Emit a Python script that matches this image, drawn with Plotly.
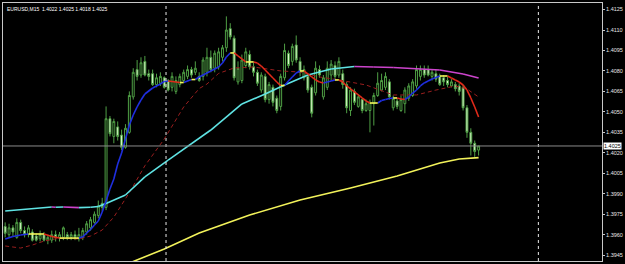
import plotly.graph_objects as go

# ---------------- data (EURUSD, M15) ----------------
bars = list(range(123))
open_ = [1.3966,1.3960,1.3965,1.3958,1.3969,1.3963,1.3960,1.3962,1.3959,1.3957,
         1.3960,1.3956,1.3956,1.3960,1.3958,1.3958,1.3960,1.3958,1.3960,1.3957,
         1.3958,1.3962,1.3965,1.3969,1.3974,1.3983,1.3980,1.4045,1.4032,1.4039,
         1.4033,1.4024,1.4035,1.4061,1.4081,1.4077,1.4087,1.4078,1.4078,1.4070,
         1.4071,1.4075,1.4073,1.4068,1.4065,1.4070,1.4073,1.4076,1.4081,1.4079,
         1.4076,1.4076,1.4079,1.4090,1.4082,1.4083,1.4090,1.4097,1.4111,1.4104,
         1.4072,1.4073,1.4084,1.4092,1.4083,1.4079,1.4066,1.4076,1.4059,1.4068,
         1.4060,1.4054,1.4075,1.4093,1.4087,1.4099,1.4087,1.4075,1.4076,1.4068,
         1.4064,1.4081,1.4061,1.4068,1.4077,1.4084,1.4077,1.4078,1.4070,1.4051,
         1.4065,1.4054,1.4059,1.4051,1.4051,1.4056,1.4062,1.4066,1.4068,1.4072,
         1.4053,1.4058,1.4051,1.4056,1.4060,1.4062,1.4069,1.4076,1.4081,1.4081,
         1.4076,1.4078,1.4076,1.4075,1.4073,1.4069,1.4070,1.4069,1.4068,1.4053,
         1.4035,1.4027,1.4022]
high = [1.3969,1.3968,1.3967,1.3972,1.3971,1.3966,1.3967,1.3964,1.3961,1.3963,
        1.3962,1.3960,1.3963,1.3963,1.3962,1.3966,1.3962,1.3962,1.3963,1.3965,
        1.3965,1.3970,1.3973,1.3977,1.3985,1.3987,1.4054,1.4047,1.4045,1.4043,
        1.4037,1.4041,1.4065,1.4082,1.4088,1.4090,1.4091,1.4081,1.4081,1.4078,
        1.4079,1.4076,1.4074,1.4079,1.4076,1.4078,1.4081,1.4084,1.4083,1.4087,
        1.4079,1.4090,1.4097,1.4095,1.4095,1.4097,1.4099,1.4120,1.4115,1.4106,
        1.4087,1.4092,1.4097,1.4095,1.4087,1.4081,1.4079,1.4078,1.4072,1.4070,
        1.4062,1.4078,1.4100,1.4095,1.4100,1.4106,1.4090,1.4084,1.4078,1.4070,
        1.4087,1.4084,1.4077,1.4087,1.4088,1.4087,1.4090,1.4081,1.4072,1.4068,
        1.4067,1.4063,1.4060,1.4059,1.4059,1.4064,1.4079,1.4078,1.4079,1.4074,
        1.4062,1.4060,1.4062,1.4068,1.4071,1.4074,1.4084,1.4084,1.4084,1.4084,
        1.4081,1.4081,1.4078,1.4077,1.4076,1.4074,1.4072,1.4071,1.4070,1.4055,
        1.4038,1.4029,1.4025]
low = [1.3958,1.3958,1.3959,1.3957,1.3961,1.3958,1.3958,1.3955,1.3955,1.3955,
       1.3955,1.3953,1.3954,1.3955,1.3955,1.3956,1.3956,1.3956,1.3956,1.3955,
       1.3956,1.3960,1.3963,1.3968,1.3972,1.3977,1.3978,1.4032,1.4027,1.4029,
       1.4022,1.4023,1.4034,1.4059,1.4073,1.4075,1.4076,1.4073,1.4069,1.4068,
       1.4069,1.4067,1.4065,1.4065,1.4063,1.4068,1.4072,1.4074,1.4075,1.4077,
       1.4072,1.4073,1.4076,1.4079,1.4079,1.4081,1.4087,1.4094,1.4103,1.4073,
       1.4070,1.4071,1.4082,1.4081,1.4076,1.4069,1.4064,1.4057,1.4056,1.4054,
       1.4049,1.4051,1.4073,1.4082,1.4084,1.4086,1.4076,1.4073,1.4064,1.4046,
       1.4062,1.4075,1.4059,1.4066,1.4073,1.4073,1.4075,1.4067,1.4049,1.4047,
       1.4055,1.4053,1.4049,1.4050,1.4035,1.4040,1.4061,1.4065,1.4066,1.4059,
       1.4051,1.4052,1.4050,1.4049,1.4058,1.4061,1.4067,1.4073,1.4075,1.4076,
       1.4073,1.4072,1.4069,1.4069,1.4068,1.4068,1.4065,1.4062,1.4051,1.4031,
       1.4018,1.4017,1.4018]
close = [1.3961,1.3965,1.3962,1.3969,1.3963,1.3960,1.3965,1.3956,1.3956,1.3960,
         1.3956,1.3958,1.3960,1.3958,1.3960,1.3965,1.3958,1.3960,1.3958,1.3960,
         1.3963,1.3968,1.3971,1.3975,1.3981,1.3980,1.4045,1.4034,1.4043,1.4032,
         1.4024,1.4038,1.4062,1.4079,1.4076,1.4086,1.4077,1.4076,1.4070,1.4075,
         1.4076,1.4068,1.4066,1.4076,1.4073,1.4076,1.4079,1.4081,1.4077,1.4082,
         1.4073,1.4088,1.4090,1.4081,1.4093,1.4094,1.4097,1.4110,1.4105,1.4075,
         1.4082,1.4088,1.4094,1.4083,1.4079,1.4071,1.4077,1.4059,1.4070,1.4057,
         1.4051,1.4076,1.4095,1.4084,1.4098,1.4088,1.4079,1.4081,1.4066,1.4049,
         1.4082,1.4077,1.4075,1.4082,1.4085,1.4076,1.4087,1.4070,1.4053,1.4066,
         1.4057,1.4061,1.4051,1.4056,1.4057,1.4062,1.4071,1.4073,1.4076,1.4061,
         1.4060,1.4054,1.4059,1.4066,1.4069,1.4072,1.4081,1.4081,1.4077,1.4077,
         1.4079,1.4074,1.4070,1.4072,1.4070,1.4072,1.4067,1.4065,1.4053,1.4035,
         1.4027,1.4021,1.4025]

# fast moving average (colour by slope)
fast_x = [0,2,4,6,10,12,14,19,20,21,22,23,24,25,26,27,28,29,30,31,32,33,34,35,36,38,40,41,
          42,45,46,48,49,50,53,55,56,57,58,59,60,61,62,64,65,66,67,68,69,70,71,72,73,74,75,
          76,77,78,79,80,81,82,83,84,85,86,87,88,89,90,91,92,93,94,96,97,98,99,100,101,102,
          103,104,105,106,107,108,109,110,111,112,114,115,116,117,118,119,120,121,122]
fast_v = [1.39568,1.39586,1.39597,1.39605,1.39605,1.39586,1.39575,1.39575,1.39584,1.39612,
          1.39638,1.39671,1.39700,1.39766,1.39847,1.39935,1.40008,1.40118,1.40199,1.40301,
          1.40404,1.40477,1.40536,1.40587,1.40631,1.40675,1.40704,1.40723,
          1.40726,1.40715,1.40715,1.40737,1.40737,1.40756,1.40800,1.40829,1.40858,1.40902,
          1.40932,1.40932,1.40910,1.40888,1.40866,1.40866,1.40858,1.40836,1.40807,1.40778,
          1.40748,1.40719,1.40693,1.40693,1.40726,1.40756,1.40785,1.40800,1.40800,1.40778,
          1.40756,1.40734,1.40719,1.40712,1.40719,1.40726,1.40734,1.40734,1.40719,1.40690,
          1.40668,1.40646,1.40624,1.40602,1.40580,1.40565,1.40565,1.40583,1.40591,1.40598,
          1.40602,1.40602,1.40594,1.40591,1.40609,1.40638,1.40660,1.40690,1.40712,1.40726,
          1.40741,1.40752,1.40763,1.40763,1.40748,1.40734,1.40719,1.40697,1.40660,1.40602,
          1.40536,1.40462]

# medium moving average (dashed)
mid_x = [0,4,7,10,14,19,22,25,28,32,36,41,46,50,52,55,59,64,71,76,81,86,93,100,106,111,116,119,122]
mid_v = [1.39517,1.39502,1.39524,1.39553,1.39575,1.39568,1.39590,1.39634,1.39729,1.39908,
         1.40105,1.40301,1.40536,1.40671,1.40704,1.40782,1.40822,1.40829,1.40800,1.40792,
         1.40756,1.40734,1.40697,1.40624,1.40624,1.40660,1.40690,1.40668,1.40609]

# slow moving average (cyan / magenta by slope)
slow_x = [0,12,13,15,19,22,24,26,31,36,42,53,61,67,72,78,84,90,95,100,112,118,122]
slow_v = [1.39773,1.39803,1.39801,1.39803,1.39798,1.39801,1.39806,1.39828,1.39891,1.40023,
          1.40147,1.40367,1.40558,1.40631,1.40697,1.40770,1.40814,1.40833,1.40829,1.40825,
          1.40807,1.40778,1.40748]

# long moving average (yellow)
long_x = [30,32,41,50,63,76,89,101,112,117,122]
long_v = [1.39340,1.39392,1.39495,1.39612,1.39744,1.39854,1.39942,1.40030,1.40125,1.40155,1.40165]

y_ticks = [1.3945,1.3960,1.3975,1.3990,1.4005,1.4020,1.4035,1.4050,1.4065,1.4080,1.4095,1.4110,1.4125]
last_price = 1.4025
day_starts = [41.45, 137.4]
title_text = "EURUSD,M15  1.4022 1.4025 1.4018 1.4025"

# ---------------- figure ----------------
GREEN = "#4f9f45"
PALE = "#e9ffd9"

fig = go.Figure()
fig.add_trace(go.Candlestick(
    x=bars, open=open_, high=high, low=low, close=close,
    increasing=dict(line=dict(color=GREEN, width=1), fillcolor="#000000"),
    decreasing=dict(line=dict(color=GREEN, width=1), fillcolor=PALE),
    whiskerwidth=0, showlegend=False, hoverinfo="skip"))


def slope_groups(xs, vs, up, down, flat):
    groups = {}
    for k in range(len(xs) - 1):
        d = vs[k + 1] - vs[k]
        c = up if d > 1e-9 else (down if d < -1e-9 else flat)
        gx, gy = groups.setdefault(c, ([], []))
        gx += [xs[k], xs[k + 1], None]
        gy += [vs[k], vs[k + 1], None]
    return groups


# yellow long MA
fig.add_trace(go.Scatter(x=long_x, y=long_v, mode="lines",
                         line=dict(color="#f2f25a", width=1.6),
                         showlegend=False, hoverinfo="skip"))
# dashed medium MA
fig.add_trace(go.Scatter(x=mid_x, y=mid_v, mode="lines",
                         line=dict(color="#9a1e1e", width=1, dash="4px,3px"),
                         showlegend=False, hoverinfo="skip"))
# cyan / magenta MA
for c, (gx, gy) in slope_groups(slow_x, slow_v, "#5fe3e3", "#cc44cc", "#5fe3e3").items():
    fig.add_trace(go.Scatter(x=gx, y=gy, mode="lines", line=dict(color=c, width=1.6),
                             showlegend=False, hoverinfo="skip", connectgaps=False))
# fast MA blue / red / yellow
for c, (gx, gy) in slope_groups(fast_x, fast_v, "#1f2fe0", "#e02a1a", "#f5f55a").items():
    fig.add_trace(go.Scatter(x=gx, y=gy, mode="lines", line=dict(color=c, width=1.6),
                             showlegend=False, hoverinfo="skip", connectgaps=False))

shapes = []
for d in day_starts:
    shapes.append(dict(type="line", xref="x", yref="paper", x0=d, x1=d, y0=0, y1=1,
                       line=dict(color="#e8e8e8", width=1, dash="dot")))
shapes.append(dict(type="line", xref="paper", yref="y", x0=0, x1=1, y0=last_price, y1=last_price,
                   line=dict(color="#8a8a8a", width=1)))
fig.update_layout(shapes=shapes)

fig.add_annotation(xref="paper", yref="paper", x=0, y=1, xanchor="left", yanchor="top",
                   xshift=2, yshift=-1, text=title_text, showarrow=False,
                   font=dict(family="Liberation Sans", size=5, color="#ffffff"))
fig.add_annotation(xref="paper", yref="y", x=1, y=last_price, xanchor="left", yanchor="middle",
                   xshift=1, text=f"{last_price:.4f}", showarrow=False, bgcolor="#ffffff",
                   borderpad=0, font=dict(family="Liberation Sans", size=5.5, color="#000000"))

fig.update_layout(
    width=625, height=264,
    margin=dict(l=2, r=21, t=3, b=3),
    paper_bgcolor="#000000", plot_bgcolor="#000000",
    xaxis=dict(range=[-0.56, 153.8], showticklabels=False, showgrid=False, zeroline=False,
               showline=True, mirror=True, linecolor="#c8c8c8", linewidth=1,
               rangeslider=dict(visible=False), fixedrange=True),
    yaxis=dict(range=[1.39407, 1.41298], side="right", tickvals=y_ticks,
               ticktext=[f"{v:.4f}" for v in y_ticks], showgrid=False, zeroline=False,
               ticks="outside", ticklen=2, tickcolor="#c8c8c8",
               tickfont=dict(family="Liberation Sans", size=5.5, color="#e6e6e6"),
               showline=True, mirror=True, linecolor="#c8c8c8", linewidth=1, fixedrange=True),
)

fig.write_html("out.html")
